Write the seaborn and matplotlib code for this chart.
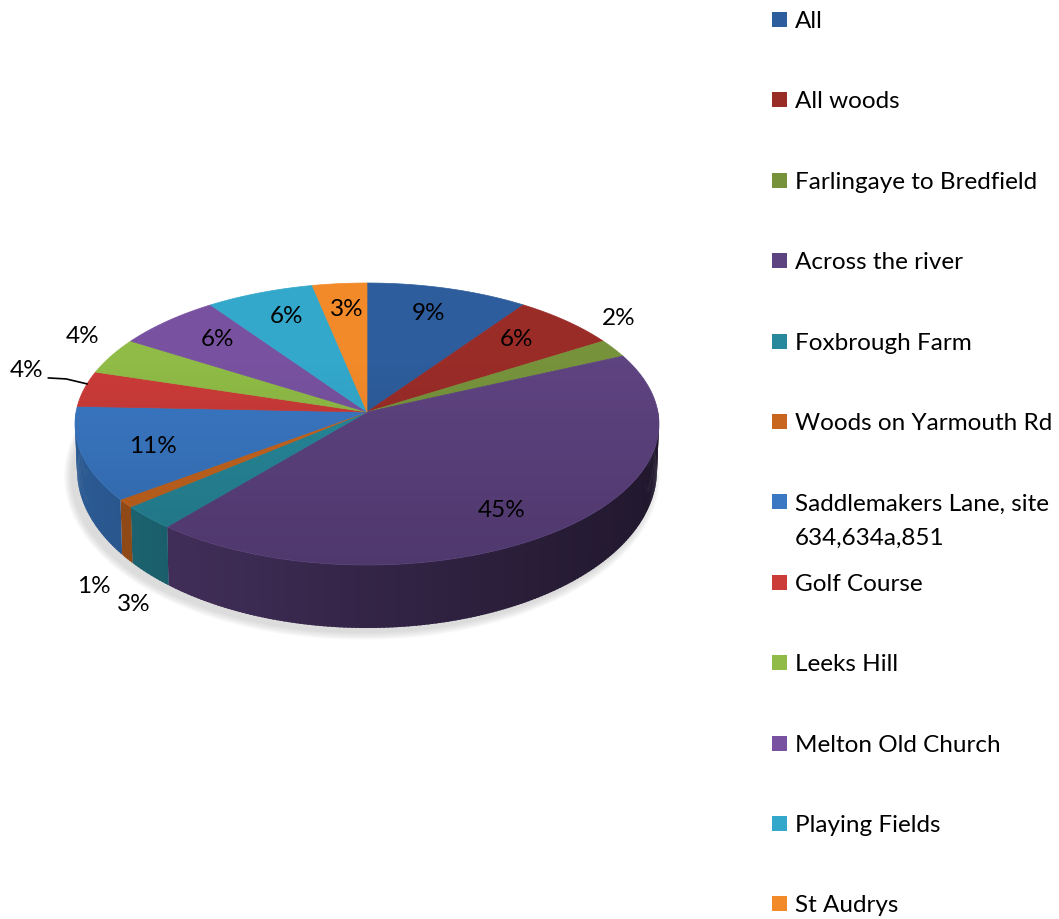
import numpy as np
import seaborn as sns
import matplotlib.pyplot as plt
from matplotlib.patches import Polygon, Rectangle, Ellipse

# data
sites = ["All", "All woods", "Farlingaye to Bredfield", "Across the river",
         "Foxbrough Farm", "Woods on Yarmouth Rd",
         "Saddlemakers Lane, site\n634,634a,851", "Golf Course", "Leeks Hill",
         "Melton Old Church", "Playing Fields", "St Audrys"]
share = [9, 6, 2, 45, 3, 1, 11, 4, 4, 6, 6, 3]
colours = ["#2d5d9c", "#9a2c28", "#76933c", "#5e4381", "#27899b", "#c8661f",
           "#3a78c4", "#cb3b38", "#8fbb46", "#7852a0", "#33a8cb", "#f28a2a"]

sns.set_theme(style="white")
plt.rcParams["font.family"] = ["Lato", "DejaVu Sans"]

W, H = 1059, 919
fig = plt.figure(figsize=(W / 100, H / 100), dpi=100)
ax = fig.add_axes([0, 0, 1, 1])
ax.set_xlim(0, W)
ax.set_ylim(H, 0)
ax.axis("off")

# geometry of the tilted pie, in pixels
cx, cy, rx, ry = 367, 424, 292, 141     # top face
apex = (367, 412)
bcy, brx, bry = 470, 290, 158           # bottom rim

frac = np.array(share) / sum(share)
edges = 90 - 360 * np.concatenate([[0], np.cumsum(frac)])


def top_pt(t):
    t = np.radians(t)
    return cx + rx * np.cos(t), cy - ry * np.sin(t)


def bot_pt(t):
    t = np.radians(t)
    return cx + brx * np.cos(t), bcy - bry * np.sin(t)


def shade(col, k):
    r, g, b = plt.matplotlib.colors.to_rgb(col)
    return (min(r * k, 1), min(g * k, 1), min(b * k, 1))


# soft shadow under the pie
for i in range(8):
    ax.add_patch(Ellipse((cx - 5, bcy + 6), 2 * brx + 16 - i * 2, 2 * bry + 12 - i * 2,
                         color="#808080", alpha=0.035, lw=0))

# side wall (front half only), drawn in overlapping strips
for i, col in enumerate(colours):
    a = max(edges[i + 1], -186)
    b = min(edges[i], 6)
    if a >= b:
        continue
    ts = np.append(np.arange(a, b, 0.8), b)
    for t0, t1 in zip(ts[:-1], ts[1:]):
        k = 0.55 - 0.2 * np.cos(np.radians((t0 + t1) / 2))
        t1x = min(t1 + 0.5, b)
        quad = [top_pt(t0), top_pt(t1x), bot_pt(t1x), bot_pt(t0)]
        ax.add_patch(Polygon(quad, closed=True, fc=shade(col, k), lw=0))

# top face
for i, col in enumerate(colours):
    ts = np.linspace(edges[i], edges[i + 1], 80)
    pts = [apex] + [top_pt(t) for t in ts]
    ax.add_patch(Polygon(pts, closed=True, fc=col, ec=col, lw=0.5))

# light gradient over the top face
grad = np.zeros((200, 1, 4))
grad[:, 0, 3] = np.linspace(-0.06, 0.16, 200).clip(0)
clip = Ellipse((cx, cy), 2 * rx, 2 * ry, transform=ax.transData)
im = ax.imshow(grad, extent=(cx - rx, cx + rx, cy + ry, cy - ry), aspect="auto",
               origin="upper", zorder=3)
im.set_clip_path(clip)
ax.set_xlim(0, W)
ax.set_ylim(H, 0)

# percentage labels
outside = {2: (5, -30), 4: (-16, 30), 5: (-33, 28), 7: (-58, -18), 8: (-29, -20)}
fs = 17.5
for i, p in enumerate(share):
    mid = (edges[i] + edges[i + 1]) / 2
    txt = f"{p}%"
    if i in outside:
        dx, dy = outside[i]
        ex, ey = bot_pt(mid) if np.sin(np.radians(mid)) < 0 else top_pt(mid)
        lx, ly = ex + dx, ey + dy
        ax.text(lx, ly, txt, ha="center", va="center", fontsize=fs, color="black", zorder=5)
        if i == 7:
            ax.plot([lx + 22, lx + 40, ex + 3], [ly + 7, ly + 8, ey - 5],
                    color="black", lw=1.2, zorder=5)
    else:
        ex, ey = top_pt(mid)
        lx = apex[0] + 0.75 * (ex - apex[0])
        ly = apex[1] + 0.8 * (ey - apex[1])
        ax.text(lx, ly, txt, ha="center", va="center", fontsize=fs, color="black", zorder=5)

# legend
for i, (name, col) in enumerate(zip(sites, colours)):
    yb = 28 + i * 80.4
    ax.add_patch(Rectangle((772, yb - 16), 15, 15, fc=col, ec="none"))
    for j, line in enumerate(name.split("\n")):
        ax.text(795, yb + j * 34, line, ha="left", va="baseline", fontsize=fs,
                color="black")

fig.savefig("out.png", dpi=100)
